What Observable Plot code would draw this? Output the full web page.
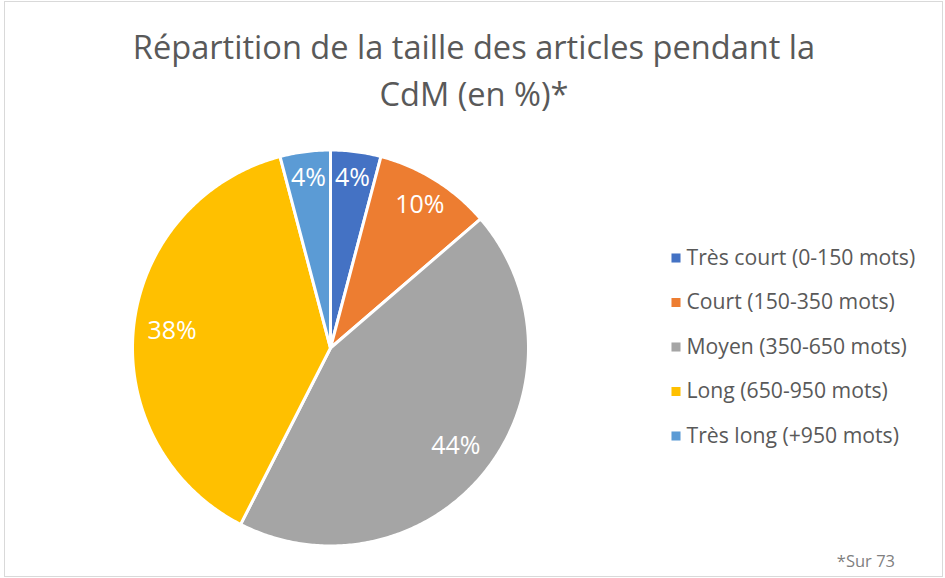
<!DOCTYPE html>
<html>
<head>
<meta charset="utf-8">
<script src="https://cdn.jsdelivr.net/npm/d3@7"></script>
<script src="https://cdn.jsdelivr.net/npm/@observablehq/plot@0.6"></script>
<style>
  html, body { margin: 0; padding: 0; background: #fff; }
  #chart { position: relative; width: 945px; height: 578px; overflow: hidden; font-family: "Open Sans", sans-serif; }
  #frame { position: absolute; left: 4px; top: 1px; width: 937px; height: 574px; border: 1px solid #d9d9d9; }
  #title { position: absolute; left: 0; top: 23px; width: 948px; text-align: center; color: #595959; font-size: 32.6px; line-height: 47px; }
  #plot { position: absolute; left: 0; top: 118px; }
  #caption { position: absolute; right: 50px; top: 549px; color: #7f7f7f; font-size: 16.5px; }
</style>
</head>
<body>
<div id="chart">
  <div id="frame"></div>
  <div id="title">Répartition de la taille des articles pendant la<br>CdM (en %)*</div>
  <div id="plot"></div>
  <div id="caption">*Sur 73</div>
</div>
<script>
const categories = ["Très court (0-150 mots)", "Court (150-350 mots)", "Moyen (350-650 mots)", "Long (650-950 mots)", "Très long (+950 mots)"];
const values = [4.1, 9.6, 43.8, 38.4, 4.1];
const labels = ["4%", "10%", "44%", "38%", "4%"];
const colors = ["#4472C4", "#ED7D31", "#A5A5A5", "#FFC000", "#5B9BD5"];

const W = 945, H = 460;
const cx = 330, cy = 229.5, R = 198;

const arcs = d3.pie().sort(null).value(d => d)(values);

const pts = [];
arcs.forEach((a, i) => {
  const key = categories[i];
  pts.push({key, x: cx, y: cy});
  const n = Math.max(4, Math.ceil((a.endAngle - a.startAngle) / 0.01));
  for (let k = 0; k <= n; k++) {
    const t = a.startAngle + (a.endAngle - a.startAngle) * k / n;
    pts.push({key, x: cx + R * Math.sin(t), y: cy - R * Math.cos(t)});
  }
  pts.push({key, x: cx, y: cy});
});

const labelData = arcs.map((a, i) => {
  const m = (a.startAngle + a.endAngle) / 2;
  const f = values[i] < 6 ? 0.865 : values[i] < 20 ? 0.85 : 0.805;
  return {text: labels[i], x: cx + R * f * Math.sin(m), y: cy - R * f * Math.cos(m)};
});

const legendData = categories.map((c, i) => ({key: c, y: 139.5 + i * 44.5}));

const chart = Plot.plot({
  width: W, height: H, margin: 0,
  x: {domain: [0, W], range: [0, W], axis: null},
  y: {domain: [0, H], range: [0, H], axis: null},
  color: {domain: categories, range: colors},
  style: {fontFamily: "Open Sans, sans-serif", background: "transparent"},
  marks: [
    Plot.line(pts, {x: "x", y: "y", z: "key", fill: "key", stroke: "white", strokeWidth: 3, strokeLinejoin: "round", curve: "linear"}),
    Plot.text(labelData, {x: "x", y: "y", text: "text", fill: "white", fontSize: 25, textAnchor: "middle", lineAnchor: "middle"}),
    Plot.dot(legendData, {x: 675.5, y: "y", symbol: "square", fill: "key", r: 5.1, stroke: null}),
    Plot.text(legendData, {x: 686, y: "y", text: "key", fill: "#595959", fontSize: 21.2, textAnchor: "start", lineAnchor: "middle"})
  ]
});
document.getElementById("plot").appendChild(chart);
</script>
</body>
</html>
